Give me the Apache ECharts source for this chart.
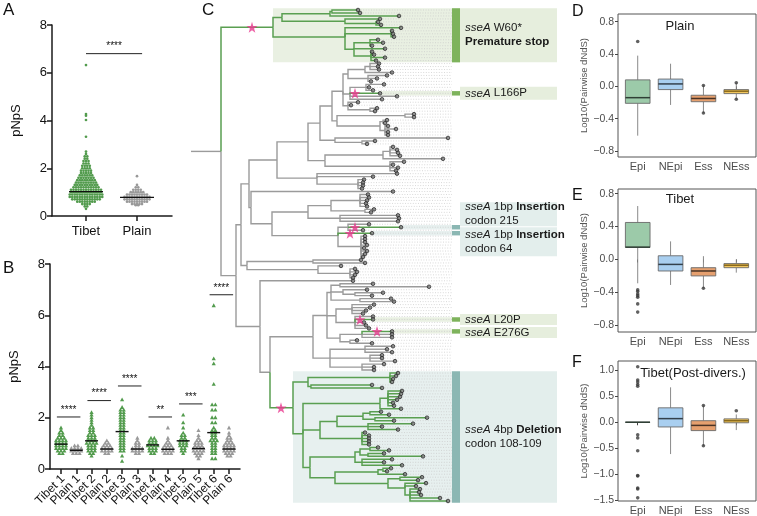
<!DOCTYPE html>
<html><head><meta charset="utf-8">
<script src="https://cdn.jsdelivr.net/npm/echarts@6/dist/echarts.min.js"></script>
<style>html,body{margin:0;padding:0;background:#fff}#c{width:757px;height:516px}</style>
</head><body><div id="c"></div>
<script>
// ================= DATA =================
// Panel A (binned pNpS values: value rows and number of points per row)
const aCategories = ['Tibet', 'Plain'];
const aTibetBins   = [0.3,0.4,0.5,0.6,0.7,0.8,0.9,1.0,1.1,1.2,1.3,1.4,1.5,1.6,1.7,1.8,1.9,2.0,2.1,2.2,2.3,2.4,2.5,2.6,2.7,3.32,4.02,4.2,4.27,6.32];
const aTibetCounts = [1,2,4,8,12,14,14,13,13,11,10,9,8,7,6,5,5,4,4,3,3,2,2,1,1,1,1,1,1,1];
const aPlainBins   = [0.45,0.5,0.6,0.7,0.8,0.9,1.0,1.1,1.2,1.3,1.67];
const aPlainCounts = [2,5,9,11,11,9,6,4,2,1,1];
const aMedians = [1.02, 0.78];
const aSigRange = [1.0, 2.1];
const aSigY = 6.8;
const aSigLabel = '****';

// Panel B
const bCategories = ['Tibet 1','Plain 1','Tibet 2','Plain 2','Tibet 3','Plain 3','Tibet 4','Plain 4','Tibet 5','Plain 5','Tibet 6','Plain 6'];
const bBins = [
  [0.6,0.7,0.8,0.9,1.0,1.1,1.2,1.3,1.4,1.5,1.6],
  [0.6,0.7,0.8,0.9],
  [0.5,0.6,0.7,0.8,0.9,1.0,1.1,1.2,1.3,1.4,1.5,1.6,1.7,1.8,1.9,2.0,2.1,2.2],
  [0.6,0.7,0.8,0.9,1.0,1.1],
  [0.3,0.5,0.7,0.8,0.9,1.0,1.1,1.2,1.3,1.4,1.5,1.6,1.7,1.8,1.9,2.0,2.1,2.2,2.3,2.4,2.7],
  [0.6,0.7,0.8,0.9,1.0,1.1,1.2],
  [0.6,0.7,0.8,0.9,1.0,1.1,1.2],
  [0.6,0.7,0.8,0.9,1.0,1.1,1.2,1.6],
  [0.6,0.7,0.8,0.9,1.0,1.1,1.2,1.3,1.4,1.6,1.8,2.1],
  [0.4,0.5,0.6,0.7,0.8,0.9,1.0,1.1,1.2,1.3,1.5],
  [0.4,0.6,0.7,0.8,0.9,1.0,1.1,1.2,1.3,1.4,1.5,1.6,1.8,2.0,2.3,2.5,3.3,4.1,4.3,6.37],
  [0.5,0.6,0.7,0.8,0.9,1.0,1.1,1.2,1.3,1.4,1.6]
];
const bCounts = [
  [2,3,4,4,4,4,3,2,2,1,1],
  [3,4,4,2],
  [1,2,3,3,3,4,3,3,3,2,2,2,1,1,1,1,1,1],
  [2,4,4,3,2,1],
  [1,1,2,2,2,2,2,2,2,2,2,2,2,2,2,2,2,2,2,1,1],
  [2,4,4,2,2,1,1],
  [2,3,3,4,3,3,2],
  [3,4,4,3,2,1,1,1],
  [1,2,2,3,3,3,2,2,1,1,1,1],
  [1,2,3,4,4,3,3,2,1,1,1],
  [2,2,2,2,2,2,3,2,2,2,2,1,2,2,2,2,1,1,1,1],
  [2,3,4,4,4,3,2,2,1,1,1]
];
const bMedians = [0.97,0.73,1.1,0.78,1.46,0.78,0.94,0.77,1.1,0.8,1.42,0.78];
const bSigPairs = [[1,2],[3,4],[5,6],[7,8],[9,10],[11,12]];
const bSigY = [2.03,2.67,3.24,2.03,2.54,6.8];
const bSigLabels = ['****','****','****','**','***','****'];

// Panel C: tree. node = [x, child...]; leaf = x; "g" = green lineage, "*x" = star on branch, "#tag" = annotated
const treeData = [221,
  ["g273*252#W60",
    [282, [330, [332, 358, 360], 399], [345, 380, [376, 378, 381]]],
    [345, 401, [391, 392, 393, 394], [354, [370, 378, 383, 372], 385, [371, 372, 374, 385, 376]]]
  ],
  [236,
    [241,
      [249,
        [277,
          [308,
            [320,
              [332,
                [343,
                  [348, [365, [370, 379, 378, 379], 392], [368, 387, 377, 371]],
                  [350, [366, 384, 369, 373], "g380*355#L166P", 397, 382],
                  [348, 358, 351, [370, 377, 375]]
                ],
                [337, [405, 414, 414], [380, [383, 387, 385], [385, 388, 396, 388, 388]]]
              ],
              [335, 448, [362, 375, 367]]
            ],
            [325, [383, [390, 393, 397, 398, 400], 443], [390, 404, 393, 398, 396]]
          ],
          [317, 397, 373, [358, 364, 363, 363, 362]]
        ],
        [251, 393,
          [272,
            [308, [331, [360, 368, 369, 367, 366, 367], [365, 374, 371]], [340, 398, 399, 398]],
            [338, [348, 369, "g401*355#I215", 363], "g372*350#I64", [361, 365, 365, 365, 367, 364, 367, 365, 363]]
          ]
        ]
      ],
      [247, [313, 361, 365], [318, 341, [350, 355, 357, 355, 353]]]
    ],
    [260, 353,
      [270,
        [313,
          [327,
            [331, [340, 373, 429], [343, 367, [355, 383, 372]], [360, 391, 394]],
            [336, [352, 374, 370, 366, 363], [355, 373, "g373*360#L20P", 364, 366, 369]],
            [340, [362, "g392*377#E276G", 392, 392], [350, 357, 372]]
          ],
          [330, [365, 393, 387, 392], [370, 382, 382, 395], [362, 384, 374, 374]]
        ],
        ["g293*281#DEL",
          [308, [390, 398, 396, 393, 392], [311, 372, 382]],
          [303,
            [380, [388, 402, 401, 400, 397, 393, 394], 401],
            [320,
              [337, [363, [370, 381, 389], [375, 427, 394]], [368, 413, 382, 398]],
              [362, 365, 369, 369, 369, 369]
            ],
            [310,
              [355, [360, [370, 378, 389], [368, 384, 423]], [362, 392, 384, 402]],
              [335, [378, [383, 391, 387], 405], [388, [400, 422, 418], [405, 426, 416, [410, 420, 419, 421, 440, 448]]]]
            ]
          ]
        ]
      ]
    ]
  ]
];
const treeRootStart = 191;
const annTags  = ['W60','L166P','I215','I64','L20P','E276G','DEL'];
const annKinds = ['g','g','t','t','g','g','t'];
const annTexts = [
  '{i|sseA} W60*\n{b|Premature stop}',
  '{i|sseA} L166P',
  '{i|sseA} 1bp {b|Insertion}\ncodon 215',
  '{i|sseA} 1bp {b|Insertion}\ncodon 64',
  '{i|sseA} L20P',
  '{i|sseA} E276G',
  '{i|sseA} 4bp {b|Deletion}\ncodon 108-109'
];

// Panels D-F: boxplots [low, q1, median, q3, high]
const boxCategories = ['Epi','NEpi','Ess','NEss'];
const dTitle = 'Plain';
const dStats = [[-0.61,-0.21,-0.14,0.08,0.38],[-0.23,-0.04,0.03,0.09,0.28],[-0.33,-0.19,-0.15,-0.11,0.01],[-0.16,-0.09,-0.06,-0.04,0.045]];
const dOutliers = [[1,0.555],[3,0.01],[3,-0.33],[4,0.045],[4,-0.16]];
const eTitle = 'Tibet';
const eStats = [[-0.29,0.147,0.15,0.45,0.65],[-0.31,-0.14,-0.06,0.045,0.22],[-0.35,-0.2,-0.14,-0.1,0.04],[-0.16,-0.1,-0.07,-0.05,0.0]];
const eOutliers = [[1,-0.37],[1,-0.39],[1,-0.42],[1,-0.44],[1,-0.46],[1,-0.54],[1,-0.64],[3,-0.35]];
const fTitle = 'Tibet(Post-divers.)';
const fStats = [[0,0,0,0,0],[-0.61,-0.09,0.07,0.277,0.67],[-0.45,-0.16,-0.06,0.03,0.32],[-0.15,-0.01,0.03,0.065,0.15]];
const fOutliers = [[1,1.065],[1,0.81],[1,0.77],[1,0.725],[1,0.69],[1,-0.24],[1,-0.30],[1,-0.545],[1,-1.02],[1,-1.03],[1,-1.26],[1,-1.28],[1,-1.45],[3,0.32],[3,-0.45],[4,0.22]];

// ================= STYLE / LAYOUT =================
const FONT = 'Liberation Sans';
const GREEN = '#529b4d', GRAY = '#999999';
const TREE_GREEN = '#5a9f51', TREE_GRAY = '#9b9b9b';
const BOX_FILL = ['#9ccaa9','#a9cff0','#e6a06f','#f1c65e'];
const BOX_MED = ['#2f3f35','#33404c','#4a3325','#8a6a1c'];
const SHADE = {g:'#e9f0e2', t:'#e7f0ef'};
const BOXBG = {g:'#e6eedd', t:'#e3eeec'};
const BAR = {g:'#7eb35c', t:'#8bb7b3'};
const annBoxPx = {L166P:[-6.5,6.5], I215:[-25,-1], I64:[-6,23], L20P:[-5.5,5.5], E276G:[-4.5,6.5]};

// ================= BUILD =================
function swarm(bins, counts, cat, spacing) {
  const pts = [];
  bins.forEach((v, i) => {
    const n = counts[i];
    for (let j = 0; j < n; j++) pts.push([cat, v, (j - (n - 1) / 2) * spacing]);
  });
  return pts;
}
function swarmSeries(xi, pts, shape, color) {
  return {
    type: 'custom', xAxisIndex: xi, yAxisIndex: xi, data: pts, silent: true, z: 3,
    renderItem: (p, api) => {
      const c = api.coord([api.value(0), api.value(1)]);
      const cx = c[0] + api.value(2), cy = c[1];
      if (shape === 'circle') return {type: 'circle', shape: {cx, cy, r: 1.35}, style: {fill: color}};
      return {type: 'polygon', shape: {points: [[cx, cy - 2.4], [cx - 2.1, cy + 1.4], [cx + 2.1, cy + 1.4]]}, style: {fill: color}};
    }
  };
}
function medianSeries(xi, data, halfPx) {
  return {
    type: 'custom', xAxisIndex: xi, yAxisIndex: xi, data, silent: true, z: 4,
    renderItem: (p, api) => {
      const c = api.coord([api.value(0), api.value(1)]);
      return {type: 'line', shape: {x1: c[0] - halfPx, y1: c[1], x2: c[0] + halfPx, y2: c[1]}, style: {stroke: '#111', lineWidth: 1.4}};
    }
  };
}
function sigSeries(xi, data, labels) {
  return {
    type: 'custom', xAxisIndex: xi, yAxisIndex: xi, data, silent: true, z: 4,
    renderItem: (p, api) => {
      const a = api.coord([api.value(0), api.value(2)]), b = api.coord([api.value(1), api.value(2)]);
      return {type: 'group', children: [
        {type: 'line', shape: {x1: a[0], y1: a[1], x2: b[0], y2: b[1]}, style: {stroke: '#222', lineWidth: 1}},
        {type: 'text', x: (a[0] + b[0]) / 2, y: a[1] - 2, style: {text: labels[p.dataIndex], align: 'center', verticalAlign: 'bottom', fontSize: 10, fontFamily: FONT, fill: '#111'}}
      ]};
    }
  };
}
// rotated category labels for panel B, placed through the axis scale
function rotatedLabelSeries(xi, labels) {
  return {
    type: 'custom', xAxisIndex: xi, yAxisIndex: xi, data: labels.map((l, i) => [i + 1, 0]), silent: true, z: 4,
    renderItem: (p, api) => {
      const c = api.coord([api.value(0), api.value(1)]);
      return {type: 'text', x: c[0] + 2, y: c[1] + 8, rotation: Math.PI / 4,
        style: {text: labels[p.dataIndex], align: 'right', verticalAlign: 'middle', fontSize: 12, fontFamily: FONT, fill: '#111'}};
    }
  };
}

// --- tree ---
function build(n, pg) {
  let head = n, kids = [];
  if (Array.isArray(n)) { head = n[0]; kids = n.slice(1); }
  const node = {x: 0, green: pg, star: null, tag: null, children: []};
  if (typeof head === 'number') node.x = head;
  else {
    const m = /^(g?)([\d.]+)(?:\*([\d.]+))?(?:#(\w+))?$/.exec(head);
    node.green = pg || m[1] === 'g'; node.x = +m[2];
    if (m[3]) node.star = +m[3];
    if (m[4]) node.tag = m[4];
  }
  node.children = kids.map(k => build(k, node.green));
  return node;
}
const root = build(treeData, false);
let leafCount = 0;
(function lay(n) {
  if (!n.children.length) { n.y = leafCount++; n.min = n.max = n.y; return; }
  n.children.forEach(lay);
  n.y = n.children.reduce((s, c) => s + c.y, 0) / n.children.length;
  n.min = n.children[0].min; n.max = n.children[n.children.length - 1].max;
})(root);
const edges = [], leaves = [], stars = [], tagged = {};
(function walk(n, parent) {
  if (parent) edges.push([parent.x, parent.y, n.x, n.y, n.green ? 1 : 0]);
  if (!n.children.length) leaves.push([n.x, n.y]);
  if (n.star != null) stars.push([n.star, n.y]);
  if (n.tag) tagged[n.tag] = n;
  n.children.forEach(c => walk(c, n));
})(root, null);
edges.push([treeRootStart, root.y, root.x, root.y, 0]);
edges.sort((a, b) => a[4] - b[4]);

const xG = 2; // tree axis index
const treeSeries = [
  // shading
  {type: 'custom', xAxisIndex: xG, yAxisIndex: xG, data: annTags.map((t, i) => [i]), silent: true, z: 1,
   renderItem: (p, api) => {
     const i = p.dataIndex, n = tagged[annTags[i]], k = annKinds[i];
     const single = !n.children.length;
     const pad = single ? 0.75 : 0.6;
     const a = api.coord([n.x, n.min - pad]), b = api.coord([452, n.max + pad]);
     return {type: 'rect', shape: {x: a[0], y: a[1], width: b[0] - a[0], height: b[1] - a[1]}, style: {fill: SHADE[k]}};
   }},
  // dotted leaf guides
  {type: 'custom', xAxisIndex: xG, yAxisIndex: xG, data: leaves, silent: true, z: 2,
   renderItem: (p, api) => {
     const a = api.coord([api.value(0), api.value(1)]), b = api.coord([452, api.value(1)]);
     return {type: 'line', shape: {x1: a[0], y1: a[1], x2: b[0], y2: b[1]}, style: {stroke: '#c9c9c9', lineWidth: 0.7, lineDash: [1, 1.6]}};
   }},
  // annotation bars and label boxes
  {type: 'custom', xAxisIndex: xG, yAxisIndex: xG, data: annTags.map((t, i) => [i]), silent: true, z: 2,
   renderItem: (p, api) => {
     const i = p.dataIndex, n = tagged[annTags[i]], k = annKinds[i];
     const single = !n.children.length;
     const pad = single ? 0.75 : 0.6;
     const a = api.coord([452, n.min - pad]), b = api.coord([460, n.max + pad]);
     const right = api.coord([557, 0])[0];
     let top = a[1], bot = b[1];
     if (single) { const cy = api.coord([0, n.y])[1]; const o = annBoxPx[annTags[i]]; top = cy + o[0]; bot = cy + o[1]; }
     return {type: 'group', children: [
       {type: 'rect', shape: {x: b[0], y: top, width: right - b[0], height: bot - top}, style: {fill: BOXBG[k]}},
       {type: 'rect', shape: {x: a[0], y: a[1], width: b[0] - a[0], height: b[1] - a[1]}, style: {fill: BAR[k]}},
       {type: 'text', x: b[0] + 5, y: (top + bot) / 2, style: {text: annTexts[i], align: 'left', verticalAlign: 'middle', fontSize: 11.5, lineHeight: 14, fontFamily: FONT, fill: '#1a1a1a',
         rich: {i: {fontStyle: 'italic', fontSize: 11.5, fontFamily: FONT, fill: '#1a1a1a'}, b: {fontWeight: 'bold', fontSize: 11.5, fontFamily: FONT, fill: '#1a1a1a'}}}}
     ]};
   }},
  // branches
  {type: 'custom', xAxisIndex: xG, yAxisIndex: xG, data: edges, silent: true, z: 3,
   renderItem: (p, api) => {
     const a = api.coord([api.value(0), api.value(1)]), b = api.coord([api.value(0), api.value(3)]), c = api.coord([api.value(2), api.value(3)]);
     const g = api.value(4) === 1;
     return {type: 'polyline', shape: {points: [a, b, c]}, style: {stroke: g ? TREE_GREEN : TREE_GRAY, lineWidth: g ? 1.5 : 1.4, fill: null}};
   }},
  // tips
  {type: 'scatter', xAxisIndex: xG, yAxisIndex: xG, data: leaves, symbol: 'circle', symbolSize: 3.6, silent: true, z: 4,
   itemStyle: {color: '#7a7a7a', borderColor: '#1e1e1e', borderWidth: 0.9}},
  // stars
  {type: 'scatter', xAxisIndex: xG, yAxisIndex: xG, data: stars, silent: true, z: 5,
   symbol: 'path://M50,0 L61,35 L98,35 L68,57 L79,91 L50,70 L21,91 L32,57 L2,35 L39,35 Z', symbolSize: 11,
   itemStyle: {color: '#e8388e'}}
];

// --- boxplots ---
function boxSeries(xi, stats) {
  return {
    type: 'custom', xAxisIndex: xi, yAxisIndex: xi, data: stats.map((s, i) => [i + 1, ...s]), silent: true, z: 3,
    renderItem: (p, api) => {
      const i = p.dataIndex, cat = api.value(0);
      const lo = api.coord([cat, api.value(1)]), q1 = api.coord([cat, api.value(2)]), md = api.coord([cat, api.value(3)]),
            q3 = api.coord([cat, api.value(4)]), hi = api.coord([cat, api.value(5)]);
      const L = api.coord([cat - 0.375, 0])[0], R = api.coord([cat + 0.375, 0])[0];
      return {type: 'group', children: [
        {type: 'line', shape: {x1: lo[0], y1: lo[1], x2: q1[0], y2: q1[1]}, style: {stroke: '#8a8a8a', lineWidth: 1}},
        {type: 'line', shape: {x1: q3[0], y1: q3[1], x2: hi[0], y2: hi[1]}, style: {stroke: '#8a8a8a', lineWidth: 1}},
        {type: 'rect', shape: {x: L, y: q3[1], width: R - L, height: Math.max(q1[1] - q3[1], 0)}, style: {fill: BOX_FILL[i], stroke: '#6a6a6a', lineWidth: 0.9}},
        {type: 'line', shape: {x1: L, y1: md[1], x2: R, y2: md[1]}, style: {stroke: BOX_MED[i], lineWidth: 1.5}}
      ]};
    }
  };
}
function outlierSeries(xi, data) {
  return {type: 'scatter', xAxisIndex: xi, yAxisIndex: xi, data, symbol: 'circle', symbolSize: 3.6, silent: true, z: 4, itemStyle: {color: '#3a3a3a'}};
}

// ================= AXES =================
const blk = {color: '#1a1a1a', width: 1.5};
function gpY(gi) {
  return {gridIndex: gi, type: 'value', min: 0, max: 8, interval: 2, axisLine: {show: true, lineStyle: blk},
    axisTick: {show: true, length: 5, lineStyle: blk}, splitLine: {show: false},
    axisLabel: {fontSize: 13, color: '#111', fontFamily: FONT, margin: 5},
    name: 'pNpS', nameLocation: 'middle', nameGap: 29, nameTextStyle: {fontSize: 13, color: '#111', fontFamily: FONT}};
}
const fmtNum = d => v => (Math.abs(v) < 1e-9 ? (0).toFixed(d) : (v < 0 ? '\u2212' + (-v).toFixed(d) : v.toFixed(d)));
function ggX(gi) {
  return {gridIndex: gi, type: 'value', min: 0.4, max: 4.6, axisLine: {show: false}, splitLine: {show: false},
    axisTick: {show: true, customValues: [1, 2, 3, 4], length: 3, lineStyle: {color: '#444'}},
    axisLabel: {customValues: [1, 2, 3, 4], formatter: v => boxCategories[Math.round(v) - 1], fontSize: 11, color: '#4d4d4d', fontFamily: FONT, margin: 4}};
}
function ggY(gi, min, max, ticks, dec) {
  return {gridIndex: gi, type: 'value', min, max, axisLine: {show: false}, splitLine: {show: false},
    axisTick: {show: true, customValues: ticks, length: 3, lineStyle: {color: '#444'}},
    axisLabel: {customValues: ticks, formatter: fmtNum(dec), fontSize: 10.5, color: '#4d4d4d', fontFamily: FONT, margin: 4},
    name: 'Log10(Pairwise dNdS)', nameLocation: 'middle', nameGap: 24, nameTextStyle: {fontSize: 9.5, color: '#555', fontFamily: FONT}};
}

const ggGrid = {show: true, borderColor: '#555', borderWidth: 1, backgroundColor: 'transparent'};
const option = {
  animation: false,
  backgroundColor: '#fff',
  textStyle: {fontFamily: FONT},
  grid: [
    {left: 52, top: 25, width: 120, height: 191},
    {left: 50, top: 264, width: 190, height: 205},
    {left: 191, top: 10, width: 369, height: 491},
    Object.assign({left: 618, top: 14, width: 138, height: 143}, ggGrid),
    Object.assign({left: 618, top: 189, width: 138, height: 143}, ggGrid),
    Object.assign({left: 618, top: 361, width: 138, height: 142}, ggGrid)
  ],
  xAxis: [
    {gridIndex: 0, type: 'value', min: 1 - 34 / 51, max: 2 + 35 / 51, axisLine: {show: true, lineStyle: blk}, splitLine: {show: false},
     axisTick: {show: true, customValues: [1, 2], length: 5, lineStyle: blk},
     axisLabel: {customValues: [1, 2], formatter: v => aCategories[Math.round(v) - 1], fontSize: 13, color: '#111', fontFamily: FONT, margin: 9}},
    {gridIndex: 1, type: 'value', min: 1 - 11 / 15.27, max: 12 + 11 / 15.27, axisLine: {show: true, lineStyle: blk}, splitLine: {show: false},
     axisTick: {show: true, customValues: [1,2,3,4,5,6,7,8,9,10,11,12], length: 5, lineStyle: blk},
     axisLabel: {show: false}},
    {gridIndex: 2, type: 'value', min: 191, max: 560, show: false},
    ggX(3), ggX(4), ggX(5)
  ],
  yAxis: [
    gpY(0), gpY(1),
    {gridIndex: 2, type: 'value', min: 0, max: leafCount - 1, inverse: true, show: false},
    ggY(3, -0.874, 0.895, [-0.8, -0.4, 0, 0.4, 0.8], 1),
    ggY(4, -0.882, 0.857, [-0.8, -0.4, 0, 0.4, 0.8], 1),
    ggY(5, -1.51, 1.175, [-1.5, -1, -0.5, 0, 0.5, 1], 1)
  ],
  series: [
    swarmSeries(0, swarm(aTibetBins, aTibetCounts, 1, 2.5), 'circle', GREEN),
    swarmSeries(0, swarm(aPlainBins, aPlainCounts, 2, 2.5), 'circle', GRAY),
    medianSeries(0, aMedians.map((m, i) => [i + 1, m]), 17),
    sigSeries(0, [[aSigRange[0], aSigRange[1], aSigY]], [aSigLabel]),
    ...bBins.map((bins, i) => swarmSeries(1, swarm(bins, bCounts[i], i + 1, 3.3), 'triangle', i % 2 === 0 ? GREEN : GRAY)),
    medianSeries(1, bMedians.map((m, i) => [i + 1, m]), 6.5),
    sigSeries(1, bSigPairs.map((p, i) => [p[0] - 0.27, p[1] + 0.27, bSigY[i]]), bSigLabels),
    rotatedLabelSeries(1, bCategories),
    ...treeSeries,
    boxSeries(3, dStats), outlierSeries(3, dOutliers),
    boxSeries(4, eStats), outlierSeries(4, eOutliers),
    boxSeries(5, fStats), outlierSeries(5, fOutliers)
  ],
  graphic: [
    {type: 'text', left: 3, top: 2, style: {text: 'A', fontSize: 17, fontFamily: FONT, fill: '#111'}},
    {type: 'text', left: 3, top: 260, style: {text: 'B', fontSize: 17, fontFamily: FONT, fill: '#111'}},
    {type: 'text', left: 202, top: 2, style: {text: 'C', fontSize: 17, fontFamily: FONT, fill: '#111'}},
    {type: 'text', left: 572, top: 4, style: {text: 'D', fontSize: 16, fontFamily: FONT, fill: '#111'}},
    {type: 'text', left: 572, top: 188, style: {text: 'E', fontSize: 16, fontFamily: FONT, fill: '#111'}},
    {type: 'text', left: 572, top: 355, style: {text: 'F', fontSize: 16, fontFamily: FONT, fill: '#111'}},
    {type: 'text', x: 680, y: 26, style: {text: dTitle, align: 'center', verticalAlign: 'middle', fontSize: 13, fontFamily: FONT, fill: '#1a1a1a'}},
    {type: 'text', x: 680, y: 199, style: {text: eTitle, align: 'center', verticalAlign: 'middle', fontSize: 13, fontFamily: FONT, fill: '#1a1a1a'}},
    {type: 'text', x: 693, y: 373, style: {text: fTitle, align: 'center', verticalAlign: 'middle', fontSize: 13, fontFamily: FONT, fill: '#1a1a1a'}}
  ]
};
const chart = echarts.init(document.getElementById('c'), null, {renderer: 'canvas'});
chart.setOption(option);
</script>
</body></html>
